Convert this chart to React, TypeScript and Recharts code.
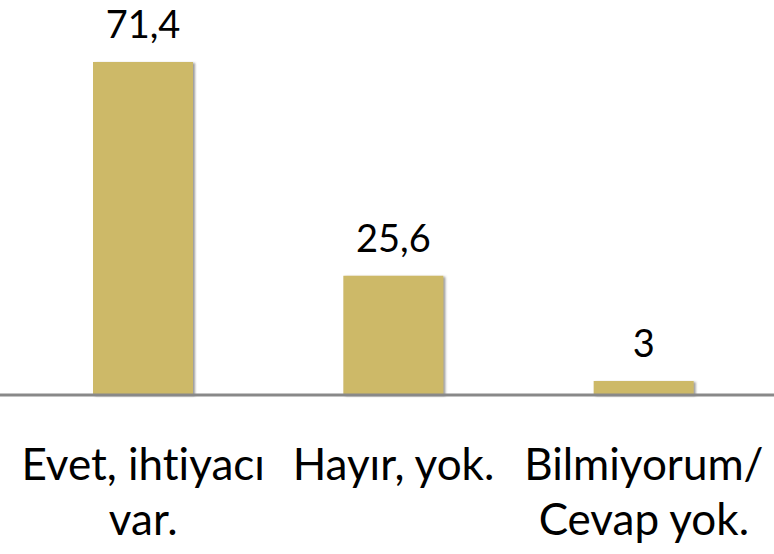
import React from "react";
import { BarChart, Bar, XAxis, YAxis, LabelList, Cell } from "recharts";

const categories = ["Evet, ihtiyacı|var.", "Hayır, yok.", "Bilmiyorum/|Cevap yok."];
const values = [71.4, 25.6, 3];
const valueLabels = ["71,4", "25,6", "3"];

const BAR_COLOR = "#CDB968";
const FONT = "Lato, 'Open Sans', sans-serif";

const data = categories.map((name, i) => ({ name, value: values[i], label: valueLabels[i] }));

function CategoryTick(props: any) {
  const { x, y, payload } = props;
  const lines = String(payload.value).split("|");
  return (
    <g transform={`translate(${x},${y})`}>
      <text
        textAnchor="middle"
        fill="#000"
        fontSize={44}
        fontFamily={FONT}
        style={{ fontVariantLigatures: "none" }}
      >
        {lines.map((l, i) => (
          <tspan key={i} x={0} y={77 + i * 55}>
            {l}
          </tspan>
        ))}
      </text>
    </g>
  );
}

function ValueLabel(props: any) {
  const { x, y, width, index } = props;
  return (
    <text x={x + width / 2} y={y - 24} textAnchor="middle" fill="#000" fontSize={38} fontFamily={FONT}>
      {valueLabels[index]}
    </text>
  );
}

export default function App() {
  return (
    <div style={{ position: "fixed", left: 0, top: 0, width: 774, height: 554, background: "#fff" }}>
      <BarChart width={774} height={554} data={data} margin={{ top: 22, right: 0, bottom: 0, left: 0 }}>
        <defs>
          <filter id="barShadow" x="-10%" y="-10%" width="130%" height="130%">
            <feDropShadow dx={2} dy={1} stdDeviation={1} floodColor="#555" floodOpacity={0.6} />
          </filter>
        </defs>
        <YAxis hide domain={[0, 80]} />
        <XAxis
          dataKey="name"
          height={159}
          padding={{ left: 18, right: 5 }}
          tickLine={false}
          axisLine={{ stroke: "#898989", strokeWidth: 3 }}
          tick={<CategoryTick />}
          interval={0}
        />
        <Bar dataKey="value" barSize={100} fill={BAR_COLOR} isAnimationActive={false} filter="url(#barShadow)">
          {data.map((d, i) => (
            <Cell key={i} fill={BAR_COLOR} />
          ))}
          <LabelList dataKey="value" content={<ValueLabel />} />
        </Bar>
      </BarChart>
    </div>
  );
}
